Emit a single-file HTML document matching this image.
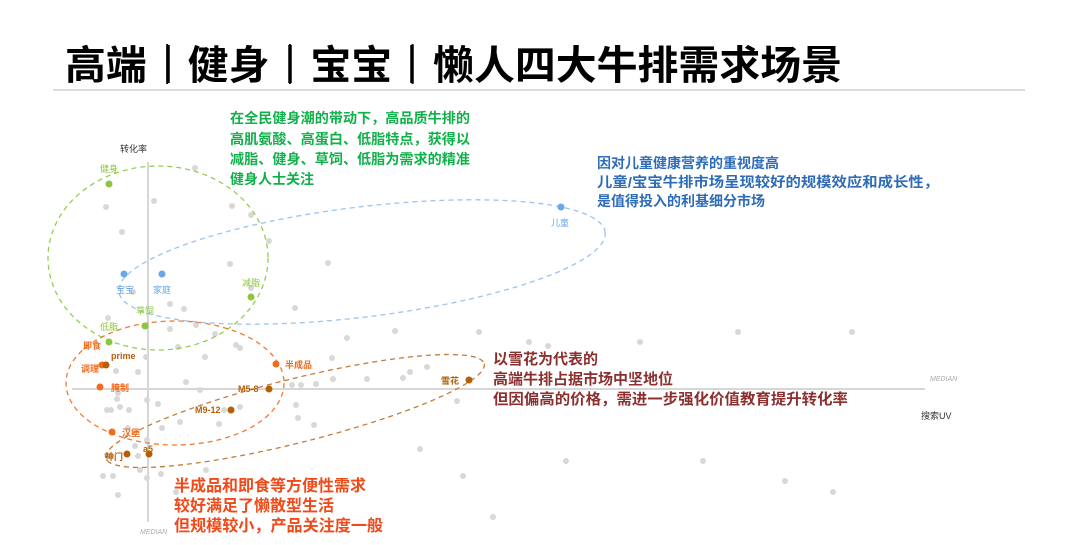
<!DOCTYPE html>
<html><head><meta charset="utf-8"><style>
html,body{margin:0;padding:0;background:#fff;}
svg{display:block;font-family:"Liberation Sans","Noto Sans CJK SC",sans-serif;}
</style></head><body>
<svg width="1080" height="545" viewBox="0 0 1080 545" xmlns="http://www.w3.org/2000/svg">
<text x="65" y="79" font-size="40" font-weight="bold" fill="#000" textLength="777" lengthAdjust="spacingAndGlyphs">高端｜健身｜宝宝｜懒人四大牛排需求场景</text>
<g stroke="#000" stroke-width="3.5">
<line x1="168" y1="45" x2="168" y2="83"/><line x1="290" y1="45" x2="290" y2="83"/><line x1="412" y1="45" x2="412" y2="83"/>
</g>
<line x1="53" y1="90" x2="1025" y2="90" stroke="#d0d0d0" stroke-width="1.5"/>

<line x1="148" y1="162" x2="148" y2="522" stroke="#d6d6d6" stroke-width="2"/>
<line x1="72" y1="389" x2="925" y2="389" stroke="#d6d6d6" stroke-width="2"/>
<text x="120" y="152" font-size="9" fill="#333">转化率</text>
<text x="930" y="381" font-size="7" font-style="italic" fill="#aaa">MEDIAN</text>
<text x="921" y="419" font-size="9" fill="#333">搜索UV</text>
<text x="140" y="534" font-size="7" font-style="italic" fill="#aaa">MEDIAN</text>

<g fill="#d8d8d8">
<circle cx="195" cy="168" r="3"/><circle cx="106" cy="207" r="3"/><circle cx="154" cy="201" r="3"/>
<circle cx="232" cy="206" r="3"/><circle cx="251" cy="215" r="3"/><circle cx="122" cy="232" r="3"/>
<circle cx="269" cy="241" r="3"/><circle cx="230" cy="264" r="3"/><circle cx="328" cy="263" r="3"/>
<circle cx="295" cy="308" r="3"/><circle cx="133" cy="292" r="3"/><circle cx="184" cy="309" r="3"/>
<circle cx="170" cy="304" r="3"/><circle cx="251" cy="288" r="3"/><circle cx="108" cy="318" r="3"/>
<circle cx="170" cy="329" r="3"/><circle cx="196" cy="325" r="3"/><circle cx="215" cy="334" r="3"/>
<circle cx="178" cy="347" r="3"/><circle cx="236" cy="345" r="3"/><circle cx="146" cy="357" r="3"/>
<circle cx="116" cy="371" r="3"/><circle cx="138" cy="372" r="3"/><circle cx="186" cy="382" r="3"/>
<circle cx="200" cy="390" r="3"/><circle cx="118" cy="393" r="3"/><circle cx="117" cy="399" r="3"/>
<circle cx="120" cy="407" r="3"/><circle cx="147" cy="400" r="3"/><circle cx="158" cy="404" r="3"/>
<circle cx="129" cy="410" r="3"/><circle cx="107" cy="410" r="3"/><circle cx="111" cy="410" r="3"/>
<circle cx="128" cy="428" r="3"/><circle cx="162" cy="428" r="3"/><circle cx="180" cy="422" r="3"/>
<circle cx="219" cy="424" r="3"/><circle cx="224" cy="410" r="3"/><circle cx="240" cy="407" r="3"/>
<circle cx="135" cy="446" r="3"/><circle cx="147" cy="440" r="3"/><circle cx="107" cy="455" r="3"/>
<circle cx="138" cy="456" r="3"/><circle cx="140" cy="470" r="3"/><circle cx="147" cy="478" r="3"/>
<circle cx="161" cy="474" r="3"/><circle cx="103" cy="476" r="3"/><circle cx="113" cy="476" r="3"/>
<circle cx="118" cy="495" r="3"/><circle cx="176" cy="492" r="3"/><circle cx="206" cy="470" r="3"/>
<circle cx="292" cy="385" r="3"/><circle cx="301" cy="385" r="3"/><circle cx="316" cy="384" r="3"/>
<circle cx="333" cy="379" r="3"/><circle cx="367" cy="379" r="3"/><circle cx="403" cy="378" r="3"/>
<circle cx="427" cy="367" r="3"/><circle cx="410" cy="372" r="3"/><circle cx="296" cy="405" r="3"/>
<circle cx="298" cy="418" r="3"/><circle cx="332" cy="358" r="3"/><circle cx="347" cy="338" r="3"/>
<circle cx="395" cy="331" r="3"/><circle cx="479" cy="332" r="3"/><circle cx="529" cy="342" r="3"/>
<circle cx="548" cy="346" r="3"/><circle cx="640" cy="342" r="3"/><circle cx="738" cy="332" r="3"/>
<circle cx="852" cy="332" r="3"/><circle cx="420" cy="449" r="3"/><circle cx="463" cy="476" r="3"/>
<circle cx="493" cy="517" r="3"/><circle cx="566" cy="461" r="3"/><circle cx="703" cy="461" r="3"/>
<circle cx="785" cy="481" r="3"/><circle cx="833" cy="492" r="3"/><circle cx="457" cy="401" r="3"/>
<circle cx="314" cy="425" r="3"/><circle cx="240" cy="348" r="3"/><circle cx="205" cy="357" r="3"/>
</g>

<ellipse cx="158" cy="258" rx="110" ry="92" fill="none" stroke="#92d050" stroke-width="1.3" stroke-dasharray="5,4"/>
<ellipse cx="362" cy="262" rx="245" ry="55" transform="rotate(-7 362 262)" fill="none" stroke="#9dc3ee" stroke-width="1.3" stroke-dasharray="5,4"/>
<ellipse cx="175" cy="383" rx="109" ry="62" fill="none" stroke="#f27a30" stroke-width="1.3" stroke-dasharray="5,4"/>
<ellipse cx="295" cy="411" rx="195" ry="32" transform="rotate(-14 295 411)" fill="none" stroke="#c27d3a" stroke-width="1.3" stroke-dasharray="5,4"/>

<g fill="#8cc63f" font-size="9">
<circle cx="109" cy="184" r="3.5"/><text x="100" y="172">健身</text>
<circle cx="251" cy="297" r="3.5"/><text x="242" y="286">减脂</text>
<circle cx="145" cy="326" r="3.5"/><text x="136" y="314">草饲</text>
<circle cx="109" cy="342" r="3.5"/><text x="100" y="330">低脂</text>
</g>
<g fill="#6aa7e8" font-size="9">
<circle cx="124" cy="274" r="3.5"/><text x="116" y="293">宝宝</text>
<circle cx="162" cy="274" r="3.5"/><text x="153" y="293">家庭</text>
<circle cx="561" cy="207" r="3.5"/><text x="551" y="226">儿童</text>
</g>
<g fill="#f26b1d" font-size="9" font-weight="bold">
<text x="83" y="349">即食</text>
<circle cx="102" cy="365" r="3.5"/><text x="81" y="372">调理</text>
<circle cx="100" cy="387" r="3.5"/><text x="111" y="391">腌制</text>
<circle cx="276" cy="364" r="3.5"/><text x="285" y="368">半成品</text>
<circle cx="112" cy="432" r="3.5"/><text x="122" y="436">汉堡</text>
</g>
<g fill="#b45f06" font-size="9" font-weight="bold">
<circle cx="106" cy="365" r="3.5"/><text x="111" y="359">prime</text>
<circle cx="269" cy="389" r="3.5"/><text x="238" y="392">M5-8</text>
<circle cx="231" cy="410" r="3.5"/><text x="195" y="413">M9-12</text>
<circle cx="127" cy="454" r="3.5"/><text x="105" y="460">神门</text>
<circle cx="149" cy="454" r="3.5"/><text x="143" y="452">a5</text>
<circle cx="469" cy="380" r="3.5"/><text x="441" y="384">雪花</text>
</g>

<g font-size="14" font-weight="bold" fill="#10b04a">
<text x="230" y="123" textLength="240" lengthAdjust="spacingAndGlyphs">在全民健身潮的带动下，高品质牛排的</text>
<text x="230" y="144" textLength="240" lengthAdjust="spacingAndGlyphs">高肌氨酸、高蛋白、低脂特点，获得以</text>
<text x="230" y="164" textLength="240" lengthAdjust="spacingAndGlyphs">减脂、健身、草饲、低脂为需求的精准</text>
<text x="230" y="184">健身人士关注</text>
</g>
<g font-size="14" font-weight="bold" fill="#2e6cb8">
<text x="597" y="168">因对儿童健康营养的重视度高</text>
<text x="597" y="187" textLength="342" lengthAdjust="spacingAndGlyphs">儿童/宝宝牛排市场呈现较好的规模效应和成长性，</text>
<text x="597" y="206">是值得投入的利基细分市场</text>
</g>
<g font-size="15" font-weight="bold" fill="#8b2f2f">
<text x="493" y="364">以雪花为代表的</text>
<text x="493" y="384">高端牛排占据市场中坚地位</text>
<text x="493" y="404" textLength="355" lengthAdjust="spacingAndGlyphs">但因偏高的价格，需进一步强化价值教育提升转化率</text>
</g>
<g font-size="16" font-weight="bold" fill="#f04a1a">
<text x="174" y="491" textLength="192" lengthAdjust="spacingAndGlyphs">半成品和即食等方便性需求</text>
<text x="174" y="511" textLength="160" lengthAdjust="spacingAndGlyphs">较好满足了懒散型生活</text>
<text x="174" y="531" textLength="209" lengthAdjust="spacingAndGlyphs">但规模较小，产品关注度一般</text>
</g>
</svg>
</body></html>
